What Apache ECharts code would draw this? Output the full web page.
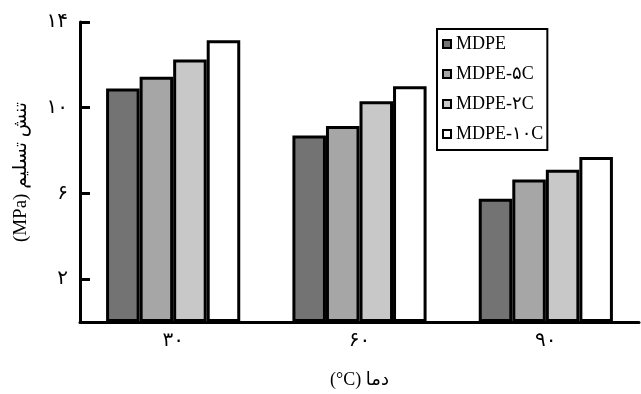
<!DOCTYPE html>
<html>
<head>
<meta charset="utf-8">
<script src="https://cdn.jsdelivr.net/npm/echarts@6/dist/echarts.min.js"></script>
<style>
  html, body { margin: 0; padding: 0; background: #fff; }
  #chart { width: 641px; height: 394px; }
</style>
</head>
<body>
<div id="chart"></div>
<script>
// دما (°C)
const categories = ['۳۰', '۶۰', '۹۰'];
const seriesNames = ['MDPE', 'MDPE-۵C', 'MDPE-۲C', 'MDPE-۱۰C'];
const mdpe = [10.9, 8.7, 5.75];
const mdpe5c = [11.45, 9.15, 6.65];
const mdpe2c = [12.25, 10.3, 7.1];
const mdpe10c = [13.15, 11.0, 7.7];
const yTickValues = [2, 6, 10, 14];
const yTickLabels = ['۲', '۶', '۱۰', '۱۴'];

const colors = ['#737373', '#a6a6a6', '#c8c8c8', '#ffffff'];
const font = '"Liberation Serif", "DejaVu Sans", serif';

const chart = echarts.init(document.getElementById('chart'));

const makeSeries = (name, data, i) => ({
  name: name,
  type: 'bar',
  data: data,
  barGap: '0%',
  barCategoryGap: '28%',
  itemStyle: {
    color: colors[i],
    borderColor: '#000',
    borderWidth: 3
  },
  animation: false
});

const option = {
  animation: false,
  grid: { left: 80, right: 2, top: 22, bottom: 72 },
  legend: {
    orient: 'vertical',
    left: 437,
    top: 29,
    padding: [6, 4, 7, 5],
    itemGap: 12,
    itemWidth: 8,
    itemHeight: 8,
    icon: 'rect',
    backgroundColor: '#fff',
    borderColor: '#000',
    borderWidth: 2,
    itemStyle: { borderColor: '#000', borderWidth: 2 },
    textStyle: { fontFamily: font, fontSize: 18, color: '#000', lineHeight: 18 },
    data: seriesNames
  },
  xAxis: {
    type: 'category',
    data: categories,
    name: '(°C) دما',
    nameLocation: 'middle',
    nameGap: 49,
    nameTextStyle: { fontFamily: font, fontSize: 18, color: '#000' },
    axisLine: { lineStyle: { color: '#000', width: 3 } },
    axisTick: { inside: true, length: 9, lineStyle: { color: '#000', width: 3 } },
    axisLabel: { fontFamily: font, fontSize: 20, color: '#000', margin: 9 }
  },
  yAxis: {
    type: 'value',
    min: 0,
    max: 14,
    interval: 2,
    name: '(MPa) تنش تسلیم',
    nameLocation: 'middle',
    nameGap: 49,
    nameTextStyle: { fontFamily: font, fontSize: 19, color: '#000' },
    axisLine: { show: true, lineStyle: { color: '#000', width: 3 } },
    axisTick: {
      show: true, inside: true, length: 10,
      customValues: yTickValues,
      lineStyle: { color: '#000', width: 3 }
    },
    axisLabel: {
      fontFamily: font, fontSize: 20, color: '#000', margin: 12,
      customValues: yTickValues,
      formatter: v => yTickLabels[yTickValues.indexOf(v)]
    },
    splitLine: { show: false }
  },
  series: [
    makeSeries(seriesNames[0], mdpe, 0),
    makeSeries(seriesNames[1], mdpe5c, 1),
    makeSeries(seriesNames[2], mdpe2c, 2),
    makeSeries(seriesNames[3], mdpe10c, 3)
  ]
};

chart.setOption(option);
</script>
</body>
</html>
